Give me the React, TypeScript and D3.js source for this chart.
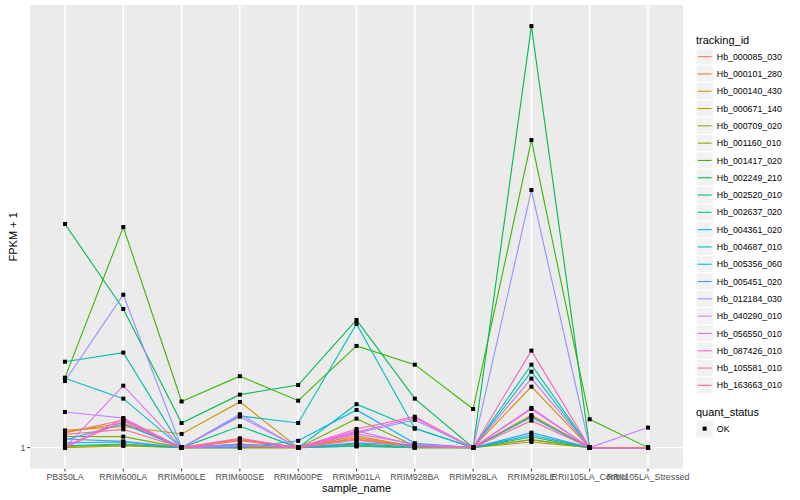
import React from "react";
import * as d3 from "d3";

const categories = [
  "PB350LA", "RRIM600LA", "RRIM600LE", "RRIM600SE", "RRIM600PE", "RRIM901LA",
  "RRIM928BA", "RRIM928LA", "RRIM928LE", "RRII105LA_Control", "RRII105LA_Stressed",
];

const seriesNames = [
  "Hb_000085_030", "Hb_000101_280", "Hb_000140_430", "Hb_000671_140", "Hb_000709_020",
  "Hb_001160_010", "Hb_001417_020", "Hb_002249_210", "Hb_002520_010", "Hb_002637_020",
  "Hb_004361_020", "Hb_004687_010", "Hb_005356_060", "Hb_005451_020", "Hb_012184_030",
  "Hb_040290_010", "Hb_056550_010", "Hb_087426_010", "Hb_105581_010", "Hb_163663_010",
];

const seriesColors = [
  "#F8766D", "#EA8331", "#D89000", "#C09B00", "#A3A500", "#7CAE00", "#39B600", "#00BB4E",
  "#00BF7D", "#00C1A3", "#00BFC4", "#00BAE0", "#00B0F6", "#35A2FF", "#9590FF", "#C77CFF",
  "#E76BF3", "#FA62DB", "#FF62BC", "#FF6C91",
];

// FPKM + 1 values, one row per tracking_id, one column per sample
const s000085 = [1.080, 1.155, 1, 1.041, 1, 1.052, 1.009, 1, 1.041, 1, 1];
const s000101 = [1.085, 1.137, 1, 1.036, 1, 1.046, 1.006, 1, 1.184, 1, 1];
const s000140 = [1.094, 1.116, 1.074, 1.269, 1, 1.063, 1.004, 1, 1.374, 1, 1];
const s000671 = [1.006, 1.014, 1, 1, 1, 1.014, 1, 1, 1.180, 1, 1];
const s000709 = [1, 1.009, 1, 1, 1, 1.006, 1, 1, 1.030, 1, 1];
const s001160 = [1.060, 1.059, 1, 1, 1, 1.163, 1.009, 1, 1.043, 1, 1];
const s001417 = [1.440, 3.157, 1.272, 1.451, 1.277, 1.699, 1.541, 1.223, 4.969, 1.159, 1];
const s002249 = [3.208, 2.060, 1.137, 1.318, 1.386, 1.945, 1.291, 1, 9.0, 1, 1];
const s002520 = [1.009, 1.019, 1, 1.118, 1, 1.019, 1.004, 1, 1.057, 1, 1];
const s002637 = [1.565, 1.641, 1, 1.009, 1, 1.254, 1.106, 1, 1.541, 1, 1];
const s004361 = [1.436, 1.291, 1, 1.180, 1.137, 1.905, 1.104, 1, 1.486, 1, 1];
const s004687 = [1.025, 1.030, 1, 1.019, 1, 1.009, 1, 1, 1.068, 1, 1];
const s005356 = [1.041, 1.131, 1, 1, 1.036, 1.217, 1.023, 1, 1.172, 1, 1];
const s005451 = [1.046, 1.033, 1, 1.017, 1, 1.025, 1.014, 1, 1.081, 1, 1];
const s012184 = [1.415, 2.219, 1, 1.190, 1, 1.080, 1.155, 1, 3.829, 1, 1];
const s040290 = [1.204, 1.167, 1, 1.175, 1, 1.091, 1.014, 1, 1.230, 1, 1.110];
const s056550 = [1, 1.381, 1, 1.009, 1, 1.074, 1.019, 1, 1.433, 1, 1];
const s087426 = [1.004, 1.161, 1, 1.014, 1, 1.085, 1.167, 1, 1.223, 1, 1];
const s105581 = [1, 1.147, 1, 1.050, 1, 1.102, 1.175, 1, 1.658, 1, 1];
const s163663 = [1.071, 1.100, 1, 1.044, 1, 1.041, 1.004, 1, 1.151, 1, 1];

const seriesValues = [
  s000085, s000101, s000140, s000671, s000709, s001160, s001417, s002249, s002520, s002637,
  s004361, s004687, s005356, s005451, s012184, s040290, s056550, s087426, s105581, s163663,
];

const yTicks = [1];
const yTickLabels = ["1"];
const shapeLevels = ["OK"];

const W = 800;
const H = 500;
const panel = { left: 30, right: 683, top: 5, bottom: 468.7 };
const FONT = "'Liberation Sans', Arial, Helvetica, sans-serif";

export default function App() {
  const x = d3
    .scalePoint<string>()
    .domain(categories)
    .range([panel.left, panel.right])
    .padding(0.6);

  const allVals = seriesValues.flat();
  const lmin = Math.log10(d3.min(allVals) as number);
  const lmax = Math.log10(d3.max(allVals) as number);
  const ext = (lmax - lmin) * 0.05;
  const y = d3
    .scaleLog()
    .domain([Math.pow(10, lmin - ext), Math.pow(10, lmax + ext)])
    .range([panel.bottom, panel.top]);

  const line = d3
    .line<number>()
    .x((_, i) => x(categories[i]) as number)
    .y((d) => y(d));

  const legendX = 696;
  const keySize = 17.3;
  const keyTop = 48;

  return (
    <svg
      width={W}
      height={H}
      style={{ position: "absolute", left: 0, top: 0, background: "#fff" }}
      fontFamily={FONT}
    >
      <rect x={0} y={0} width={W} height={H} fill="#fff" />
      <rect
        x={panel.left}
        y={panel.top}
        width={panel.right - panel.left}
        height={panel.bottom - panel.top}
        fill="#EBEBEB"
      />
      {yTicks.map((t) => (
        <line
          key={"gy" + t}
          x1={panel.left}
          x2={panel.right}
          y1={y(t)}
          y2={y(t)}
          stroke="#fff"
          strokeWidth={1.4}
        />
      ))}
      {categories.map((c) => (
        <line
          key={"gx" + c}
          x1={x(c)}
          x2={x(c)}
          y1={panel.top}
          y2={panel.bottom}
          stroke="#fff"
          strokeWidth={1.4}
        />
      ))}
      {seriesValues.map((vals, i) => (
        <path
          key={"l" + i}
          d={line(vals) as string}
          fill="none"
          stroke={seriesColors[i]}
          strokeWidth={1.1}
        />
      ))}
      {seriesValues.map((vals, i) =>
        vals.map((v, j) => (
          <rect
            key={"p" + i + "-" + j}
            x={(x(categories[j]) as number) - 2}
            y={y(v) - 2}
            width={4}
            height={4}
            fill="#000"
          />
        ))
      )}
      {/* axes */}
      {yTicks.map((t, i) => (
        <g key={"yt" + t}>
          <line x1={panel.left - 2.75} x2={panel.left} y1={y(t)} y2={y(t)} stroke="#333" strokeWidth={1} />
          <text x={panel.left - 4.5} y={y(t)} dy="0.35em" textAnchor="end" fontSize={8.8} fill="#4D4D4D">
            {yTickLabels[i]}
          </text>
        </g>
      ))}
      {categories.map((c) => (
        <g key={"xt" + c}>
          <line x1={x(c)} x2={x(c)} y1={panel.bottom} y2={panel.bottom + 2.75} stroke="#333" strokeWidth={1} />
          <text x={x(c)} y={panel.bottom + 11.5} textAnchor="middle" fontSize={8.8} fill="#4D4D4D">
            {c}
          </text>
        </g>
      ))}
      <text
        x={(panel.left + panel.right) / 2}
        y={492}
        textAnchor="middle"
        fontSize={11}
        fill="#000"
      >
        sample_name
      </text>
      <text
        transform={`translate(17,${(panel.top + panel.bottom) / 2}) rotate(-90)`}
        textAnchor="middle"
        fontSize={11}
        fill="#000"
      >
        FPKM + 1
      </text>
      {/* legend: tracking_id */}
      <text x={legendX} y={44} fontSize={11} fill="#000">
        tracking_id
      </text>
      {seriesNames.map((n, i) => {
        const ty = keyTop + i * keySize;
        return (
          <g key={"lg" + n}>
            <rect x={legendX} y={ty} width={keySize} height={keySize} fill="#F2F2F2" stroke="#fff" strokeWidth={1} />
            <line
              x1={legendX + 1.7}
              x2={legendX + keySize - 1.7}
              y1={ty + keySize / 2}
              y2={ty + keySize / 2}
              stroke={seriesColors[i]}
              strokeWidth={1.1}
            />
            <text x={legendX + keySize + 3.5} y={ty + keySize / 2} dy="0.35em" fontSize={8.8} fill="#000">
              {n}
            </text>
          </g>
        );
      })}
      {/* legend: quant_status */}
      <text x={legendX} y={416} fontSize={11} fill="#000">
        quant_status
      </text>
      {shapeLevels.map((s, i) => {
        const ty = 420 + i * keySize;
        return (
          <g key={"sg" + s}>
            <rect x={legendX} y={ty} width={keySize} height={keySize} fill="#F2F2F2" stroke="#fff" strokeWidth={1} />
            <rect x={legendX + keySize / 2 - 2} y={ty + keySize / 2 - 2} width={4} height={4} fill="#000" />
            <text x={legendX + keySize + 3.5} y={ty + keySize / 2} dy="0.35em" fontSize={8.8} fill="#000">
              {s}
            </text>
          </g>
        );
      })}
    </svg>
  );
}
